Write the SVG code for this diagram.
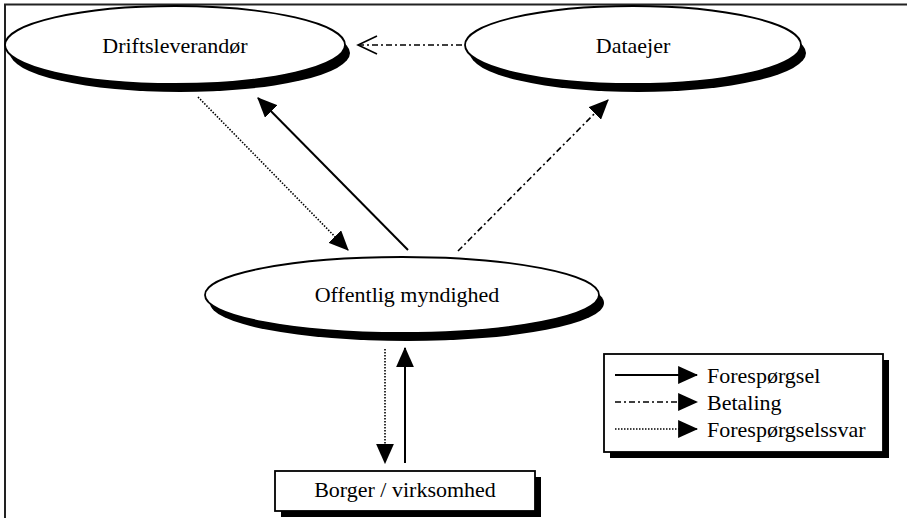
<svg xmlns="http://www.w3.org/2000/svg" width="907" height="518" viewBox="0 0 907 518">
<defs>
<style>
.lbl{font-family:'Liberation Serif','Times New Roman',serif;font-size:22px;fill:#000}
.shadow{fill:#000;stroke:none}
.shape{fill:#fff;stroke:#000;stroke-width:1.8}
.solid{stroke:#000;stroke-width:2;fill:none}
.dashdot{stroke:#000;stroke-width:1.6;fill:none;stroke-dasharray:6 3 2 3}
.dotted{stroke:#000;stroke-width:1.6;fill:none;stroke-dasharray:1.5 1.5}
</style>
<marker id="tri" markerUnits="userSpaceOnUse" markerWidth="20" markerHeight="18" viewBox="0 0 18 16" refX="17" refY="8" orient="auto">
<path d="M0,0 L18,8 L0,16 Z" fill="#000"/>
</marker>
<marker id="open" markerUnits="userSpaceOnUse" markerWidth="24" markerHeight="22" viewBox="-2 -2 24 22" refX="19" refY="9" orient="auto">
<path d="M0,0 L19,9 L0,18" fill="none" stroke="#000" stroke-width="1.6"/>
</marker>
</defs>
<rect width="907" height="518" fill="#fff"/>
<path d="M5,518 V4.5 H907" fill="none" stroke="#222" stroke-width="2"/>

<g id="driftsleverandor">
<ellipse class="shadow" cx="180" cy="53" rx="170" ry="39"/>
<ellipse class="shape" cx="175" cy="45" rx="170" ry="39"/>
<text class="lbl" x="175" y="53" text-anchor="middle">Driftsleverandør</text>
</g>
<g id="dataejer">
<ellipse class="shadow" cx="638" cy="53" rx="168" ry="39"/>
<ellipse class="shape" cx="633" cy="45" rx="168" ry="39"/>
<text class="lbl" x="633" y="53" text-anchor="middle">Dataejer</text>
</g>
<g id="offentlig">
<ellipse class="shadow" cx="407" cy="303" rx="197" ry="38"/>
<ellipse class="shape" cx="402" cy="295" rx="197" ry="38"/>
<text class="lbl" x="407" y="302" text-anchor="middle">Offentlig myndighed</text>
</g>
<g id="borger">
<rect class="shadow" x="281" y="477" width="260" height="40"/>
<rect class="shape" x="275" y="471" width="260" height="40"/>
<text class="lbl" x="405" y="497" text-anchor="middle">Borger / virksomhed</text>
</g>

<g id="connectors">
<line class="dashdot" x1="462" y1="45" x2="358" y2="45" marker-end="url(#open)"/>
<line class="dotted" x1="198" y1="97" x2="348" y2="250" marker-end="url(#tri)"/>
<line class="solid" x1="408" y1="250" x2="258" y2="98" marker-end="url(#tri)"/>
<line class="dashdot" x1="458" y1="251" x2="608" y2="100" marker-end="url(#tri)"/>
<line class="dotted" x1="385" y1="349" x2="385" y2="463" marker-end="url(#tri)"/>
<line class="solid" x1="405" y1="463" x2="405" y2="348" marker-end="url(#tri)"/>
</g>

<g id="legend">
<rect class="shadow" x="610" y="360" width="279" height="98"/>
<rect class="shape" x="604" y="354" width="279" height="98"/>
<line class="solid" x1="615" y1="375" x2="697" y2="375" marker-end="url(#tri)"/>
<line class="dashdot" x1="615" y1="402" x2="697" y2="402" marker-end="url(#tri)"/>
<line class="dotted" x1="615" y1="429" x2="697" y2="429" marker-end="url(#tri)"/>
<text class="lbl" x="707" y="383">Forespørgsel</text>
<text class="lbl" x="707" y="410">Betaling</text>
<text class="lbl" x="707" y="437">Forespørgselssvar</text>
</g>
</svg>
